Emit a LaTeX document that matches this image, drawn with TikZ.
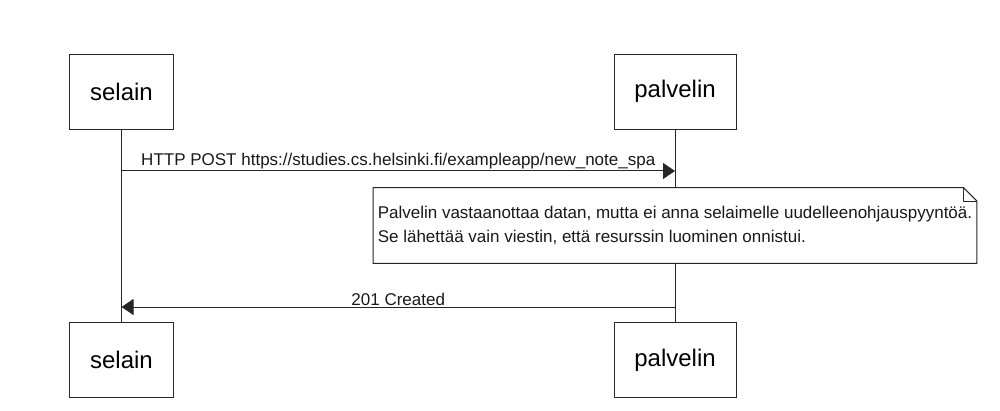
\documentclass[tikz,border=0pt]{standalone}
\usepackage{fontspec}
\setmainfont{Liberation Sans}
\usepackage{tikz}
\usetikzlibrary{calc, arrows.meta}

\begin{document}
\begin{tikzpicture}[x=1pt,y=1pt,>={Triangle[length=12pt,width=16pt]},
  actor/.style={draw=black!85,line width=1pt,fill=white,minimum height=74.7pt,inner sep=0pt,font=\fontsize{24}{28}\selectfont},
  msg/.style={->,line width=1pt,draw=black!85},
  lbl/.style={font=\fontsize{17}{20}\selectfont,inner sep=1pt,text=black!90},
  notebox/.style={fill=white,minimum width=603.4pt,minimum height=75.3pt,align=left,inner sep=0pt,font=\fontsize{17}{24}\selectfont,text=black!90}]
\useasboundingbox (0,0) rectangle (1000,-411);

% actors
\node[actor,minimum width=104.4pt] (selainA) at (121.5,-91.7) {selain};
\node[actor,minimum width=122pt] (palvelinA) at (675,-91.7) {palvelin};
\node[actor,minimum width=104.4pt] (selainB) at (121.5,-360) {selain};
\node[actor,minimum width=122pt] (palvelinB) at (675,-360) {palvelin};

% lifelines
\draw[line width=1pt,black!85] (selainA) -- (selainB);
\draw[line width=1pt,black!85] (palvelinA) -- (palvelinB);

\coordinate (row1) at (0,-171);
\coordinate (row2) at (0,-307);
\coordinate (s1) at (selainA |- row1);
\coordinate (p1) at (palvelinA |- row1);
\coordinate (s2) at (selainA |- row2);
\coordinate (p2) at (palvelinA |- row2);

\draw[msg] (s1) -- node[lbl,above] (post) {HTTP POST https://studies.cs.helsinki.fi/exampleapp/new\_note\_spa} (p1);

% note
\node[notebox] (note) at ($(palvelinA |- row1)+(0,-54.5)$) {Palvelin vastaanottaa datan, mutta ei anna selaimelle uudelleenohjauspyyntöä.\\Se lähettää vain viestin, että resurssin luominen onnistui.};
\draw[line width=1pt,black!85,line join=miter]
  (note.north west) -- ($(note.north east)+(-13.4,0)$) -- ($(note.north east)+(0,-13.4)$)
  -- (note.south east) -- (note.south west) -- cycle;
\draw[line width=1pt,black!85]
  ($(note.north east)+(-13.4,0)$) -- ($(note.north east)+(-13.4,-13.4)$) -- ($(note.north east)+(0,-13.4)$);

\draw[msg] (p2) -- node[lbl,above] (created) {201 Created} (s2);
\end{tikzpicture}
\end{document}
